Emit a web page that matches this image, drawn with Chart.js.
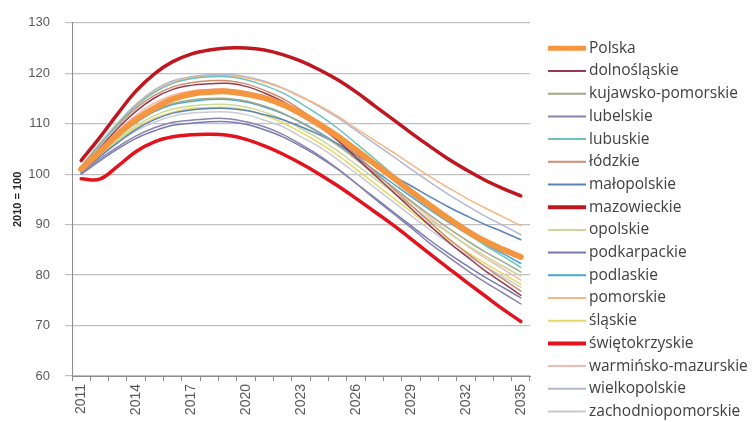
<!DOCTYPE html>
<html>
<head>
<meta charset="utf-8">
<script src="https://cdn.jsdelivr.net/npm/chart.js@4/dist/chart.umd.min.js"></script>
<style>
  html, body { margin: 0; padding: 0; background: #ffffff; }
  canvas { display: block; }
</style>
</head>
<body>
<canvas id="chart" width="752" height="422"></canvas>
<script>
// Years on the category axis and the years that carry a printed label
const years = ['2011','2012','2013','2014','2015','2016','2017','2018','2019','2020','2021','2022','2023',
               '2024','2025','2026','2027','2028','2029','2030','2031','2032','2033','2034','2035'];
const labelledYears = ['2011','2014','2017','2020','2023','2026','2029','2032','2035'];

// Index values, 2010 = 100
const polska             = [101.0,104.4,107.9,110.8,113.1,114.9,115.9,116.3,116.4,115.9,115.1,113.8,112.0,109.9,107.5,104.8,102.1,99.4,96.6,93.9,91.3,88.9,86.8,85.1,83.6];
const dolnoslaskie       = [100.8,105.1,109.1,112.5,115.1,116.8,117.6,117.9,118.0,117.4,116.1,114.4,112.1,109.6,106.7,103.3,99.9,96.6,93.2,89.9,86.7,83.8,81.0,78.5,76.0];
const kujawskoPomorskie  = [100.9,104.4,107.7,110.5,112.6,114.0,114.7,115.0,115.0,114.5,113.5,112.1,110.2,108.1,105.7,103.0,100.2,97.5,94.7,92.0,89.4,87.0,84.7,82.7,80.6];
const lubelskie          = [100.3,103.0,105.4,107.6,109.2,110.3,110.7,111.0,111.0,110.4,109.4,107.9,105.9,103.7,101.1,98.2,95.2,92.3,89.4,86.4,83.7,81.1,78.7,76.5,74.3];
const lubuskie           = [101.2,105.7,109.9,113.5,116.2,118.0,118.9,119.3,119.3,118.7,117.6,116.1,114.0,111.7,109.1,106.1,103.1,100.0,97.0,94.0,91.1,88.5,86.0,83.8,81.5];
const lodzkie            = [101.5,105.8,109.7,113.1,115.6,117.3,118.1,118.5,118.5,117.9,116.6,115.0,112.7,110.2,107.2,103.9,100.6,97.2,93.9,90.6,87.4,84.5,81.8,79.3,76.8];
const malopolskie        = [100.2,103.4,106.3,108.9,110.8,112.1,112.7,113.0,113.0,112.6,111.8,110.8,109.4,107.8,106.0,103.9,101.8,99.7,97.7,95.6,93.6,91.8,90.1,88.6,87.0];
const mazowieckie        = [102.7,107.2,112.0,116.5,119.9,122.3,123.8,124.6,125.0,125.0,124.6,123.7,122.4,120.7,118.7,116.3,113.6,110.9,108.2,105.6,103.1,100.9,98.9,97.2,95.7];
const opolskie           = [100.6,103.9,106.9,109.6,111.6,112.9,113.5,113.8,113.8,113.3,112.3,110.9,109.0,107.0,104.6,101.9,99.2,96.5,93.7,91.0,88.5,86.1,83.9,81.8,79.8];
const podkarpackie       = [100.0,102.6,105.0,107.1,108.6,109.7,110.1,110.4,110.4,109.9,108.8,107.4,105.5,103.4,101.0,98.2,95.4,92.6,89.8,87.0,84.4,82.0,79.7,77.6,75.5];
const podlaskie          = [100.5,104.1,107.4,110.2,112.4,113.8,114.4,114.8,114.8,114.3,113.3,112.0,110.3,108.3,106.0,103.4,100.8,98.2,95.6,93.0,90.6,88.3,86.2,84.3,82.3];
const pomorskie          = [101.3,105.9,110.0,113.7,116.4,118.2,119.1,119.5,119.5,119.1,118.2,117.0,115.3,113.6,111.5,109.1,106.7,104.4,102.0,99.6,97.4,95.3,93.4,91.6,89.8];
const slaskie            = [100.7,103.8,106.7,109.2,111.1,112.3,113.0,113.2,113.2,112.7,111.6,110.2,108.3,106.2,103.8,101.0,98.2,95.4,92.6,89.8,87.1,84.7,82.4,80.3,78.2];
const swietokrzyskie     = [99.1,99.0,101.6,104.5,106.4,107.4,107.8,107.9,107.7,106.9,105.6,104.0,102.1,100.0,97.7,95.2,92.6,90.0,87.2,84.3,81.5,78.7,76.0,73.3,70.8];
const warminskoMazurskie = [101.0,105.0,108.6,111.7,114.1,115.7,116.5,116.8,116.8,116.2,115.1,113.6,111.5,109.2,106.6,103.6,100.6,97.5,94.5,91.5,88.6,86.0,83.5,81.3,79.0];
const wielkopolskie      = [101.4,106.0,110.2,113.9,116.7,118.5,119.3,119.7,119.8,119.3,118.4,117.1,115.4,113.4,111.2,108.7,106.1,103.6,101.0,98.5,96.1,93.9,91.8,89.9,88.0];
const zachodniopomorskie = [100.6,103.5,106.2,108.6,110.3,111.5,112.1,112.3,112.3,111.8,110.7,109.4,107.4,105.4,102.9,100.2,97.4,94.6,91.8,89.1,86.5,84.0,81.8,79.7,77.6];

// Series: name, values, colour, line width in plot, line width in legend
const series = [
  ['Polska',              polska,             '#F4953F', 6,   5],
  ['dolnośląskie',        dolnoslaskie,       '#963A52', 1.5, 2],
  ['kujawsko-pomorskie',  kujawskoPomorskie,  '#A1A888', 1.5, 2],
  ['lubelskie',           lubelskie,          '#8A83AB', 1.5, 2],
  ['lubuskie',            lubuskie,           '#6CC2C0', 1.5, 2],
  ['łódzkie',             lodzkie,            '#CF8D6C', 1.5, 2],
  ['małopolskie',         malopolskie,        '#5A84B8', 1.5, 2],
  ['mazowieckie',         mazowieckie,        '#C0161F', 3.5, 4],
  ['opolskie',            opolskie,           '#C8D99A', 1.5, 2],
  ['podkarpackie',        podkarpackie,       '#767AB2', 1.5, 2],
  ['podlaskie',           podlaskie,          '#45A6D8', 1.5, 2],
  ['pomorskie',           pomorskie,          '#F5B783', 1.5, 2],
  ['śląskie',             slaskie,            '#E6D862', 1.5, 2],
  ['świętokrzyskie',      swietokrzyskie,     '#E3121D', 3.5, 4],
  ['warmińsko-mazurskie', warminskoMazurskie, '#F0BBB1', 1.5, 2],
  ['wielkopolskie',       wielkopolskie,      '#B1B8D0', 1.5, 2],
  ['zachodniopomorskie',  zachodniopomorskie, '#C9CAD4', 1.5, 2]
];

const datasets = series.map(([label, data, color, width, legendWidth]) => ({
  label, data,
  borderColor: color,
  backgroundColor: color,
  borderWidth: width,
  legendWidth,
  pointRadius: 0,
  fill: false,
  tension: 0.4,
  borderCapStyle: 'round',
  borderJoinStyle: 'round'
}));

// Legend listed down the right-hand side
const sideLegend = {
  id: 'sideLegend',
  afterDraw(chart) {
    const ctx = chart.ctx;
    ctx.save();
    ctx.font = '15.5px "Open Sans", "Liberation Sans", sans-serif';
    ctx.textBaseline = 'middle';
    ctx.textAlign = 'left';
    chart.data.datasets.forEach((ds, i) => {
      const y = 48.3 + i * 22.7;
      ctx.strokeStyle = ds.borderColor;
      ctx.lineWidth = ds.legendWidth;
      ctx.lineCap = 'butt';
      ctx.beginPath();
      ctx.moveTo(548, y);
      ctx.lineTo(586, y);
      ctx.stroke();
      ctx.fillStyle = '#404040';
      ctx.fillText(ds.label, 589, y);
    });
    ctx.restore();
  }
};

const axisFont = { family: '"Liberation Sans", Arial, sans-serif', size: 13 };

new Chart(document.getElementById('chart'), {
  type: 'line',
  data: { labels: years, datasets },
  options: {
    responsive: false,
    animation: false,
    devicePixelRatio: 1,
    layout: { padding: { top: 20, right: 222, bottom: 0, left: 0 } },
    plugins: {
      legend: { display: false },
      tooltip: { enabled: false }
    },
    scales: {
      x: {
        offset: true,
        grid: { offset: true, drawOnChartArea: false, drawTicks: true, tickLength: 5, color: '#8c8c8c' },
        border: { display: true, color: '#8c8c8c' },
        ticks: {
          autoSkip: false,
          minRotation: 90,
          maxRotation: 90,
          padding: 3,
          color: '#595959',
          font: { family: '"Liberation Sans", Arial, sans-serif', size: 14 },
          callback(value, index) {
            const y = years[index];
            return labelledYears.includes(y) ? y : '';
          }
        },
        afterFit(scale) { scale.height = 46; }
      },
      y: {
        min: 60,
        max: 130,
        ticks: { stepSize: 10, color: '#595959', font: axisFont, padding: 15 },
        grid: { color: '#c0c0c0', lineWidth: 1.2, tickLength: 7, drawTicks: true },
        border: { display: true, color: '#8c8c8c' },
        title: {
          display: true,
          text: '2010 = 100',
          color: '#262626',
          font: { family: '"Liberation Sans", Arial, sans-serif', size: 11, weight: 'bold' },
          padding: { top: 11, bottom: 0 }
        },
        afterFit(scale) { scale.width = 72; }
      }
    }
  },
  plugins: [sideLegend]
});
</script>
</body>
</html>
